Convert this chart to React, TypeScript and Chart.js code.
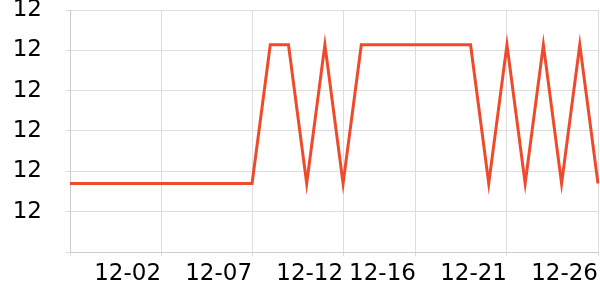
import React, { useEffect, useRef } from "react";
import { Chart, registerables } from "chart.js";

Chart.register(...registerables);

const dates = [
  "11-27", "11-28", "11-29", "11-30", "12-01", "12-02", "12-03", "12-04", "12-05", "12-06",
  "12-07", "12-08", "12-09", "12-10", "12-11", "12-12", "12-13", "12-14", "12-15", "12-16",
  "12-17", "12-18", "12-19", "12-20", "12-21", "12-22", "12-23", "12-24", "12-25", "12-26",
];
const values = [
  12.17, 12.17, 12.17, 12.17, 12.17, 12.17, 12.17, 12.17, 12.17, 12.17,
  12.17, 12.514, 12.514, 12.17, 12.514, 12.17, 12.514, 12.514, 12.514, 12.514,
  12.514, 12.514, 12.514, 12.17, 12.514, 12.17, 12.514, 12.17, 12.514, 12.17,
];
const shownDates = ["12-02", "12-07", "12-12", "12-16", "12-21", "12-26"];
const yMin = 12.0;
const yMax = 12.6;
const yStep = 0.1;

export default function App() {
  const ref = useRef<HTMLCanvasElement>(null);
  useEffect(() => {
    document.body.style.margin = "0";
    const ctx = ref.current!;
    const font = { family: "DejaVu Sans", size: 23 };
    const chart = new Chart(ctx, {
      type: "line",
      data: {
        labels: dates,
        datasets: [
          {
            data: values,
            borderColor: "rgb(238,75,45)",
            borderWidth: 3,
            pointRadius: 0,
            tension: 0,
            fill: false,
          },
        ],
      },
      options: {
        animation: false,
        responsive: false,
        maintainAspectRatio: false,
        layout: { padding: { top: 0, left: 0, bottom: 0, right: 2 } },
        plugins: { legend: { display: false }, tooltip: { enabled: false } },
        scales: {
          x: {
            offset: false,
            grid: { color: "#dddddd", tickLength: 4, lineWidth: 1 },
            border: { color: "#cccccc" },
            ticks: {
              autoSkip: false,
              maxRotation: 0,
              minRotation: 0,
              align: "end",
              color: "#000",
              font,
              padding: 4,
              callback: function (_v: any, i: number) {
                const d = dates[i];
                if (i === 0) return "";
                return shownDates.includes(d) ? d : null;
              },
            },
            afterFit: (s: any) => {
              s.height = 48;
              s.paddingLeft = 0;
              s.paddingRight = 0;
              s.paddingTop = 0;
              s.paddingBottom = 0;
            },
          },
          y: {
            min: yMin,
            max: yMax,
            grid: { color: "#dddddd", tickLength: 4 },
            border: { color: "#cccccc" },
            ticks: {
              stepSize: yStep,
              color: "#000",
              font,
              padding: 24,
              callback: function (v: any) {
                const n = Number(v);
                if (Math.abs(n - yMin) < 1e-9) return "";
                return String(Math.floor(n + 1e-9));
              },
            },
            afterFit: (s: any) => {
              s.width = 70;
              s.paddingTop = 10;
              s.paddingBottom = 0;
              s.paddingLeft = 0;
              s.paddingRight = 0;
            },
          },
        },
      },
    });
    return () => chart.destroy();
  }, []);
  return <canvas ref={ref} width={600} height={300} style={{ display: "block" }} />;
}
